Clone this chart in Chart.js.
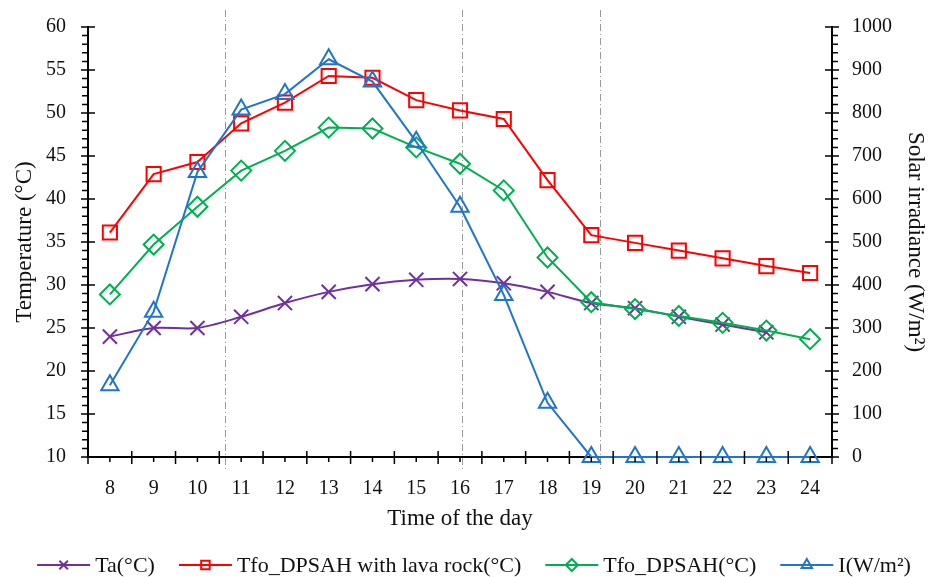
<!DOCTYPE html>
<html>
<head>
<meta charset="utf-8">
<script src="https://cdn.jsdelivr.net/npm/chart.js@4/dist/chart.umd.min.js"></script>
<style>
  html, body { margin: 0; padding: 0; background: #fff; }
  #wrap { width: 929px; height: 577px; }
</style>
</head>
<body>
<div id="wrap"><canvas id="chart" width="929" height="577"></canvas></div>
<script>
const hours = ['8', '9', '10', '11', '12', '13', '14', '15', '16', '17', '18', '19', '20', '21', '22', '23', '24'];

const ambientTemp = [24.0, 25.0, 25.0, 26.3, 27.9, 29.2, 30.1, 30.6, 30.7, 30.2, 29.2, 27.9, 27.3, 26.3, 25.4, 24.5, null];
const lavaRockTemp = [36.1, 42.9, 44.3, 48.8, 51.2, 54.3, 54.1, 51.5, 50.3, 49.3, 42.2, 35.8, 34.9, 34.0, 33.1, 32.2, 31.4];
const dpsahTemp = [28.9, 34.7, 39.1, 43.3, 45.6, 48.3, 48.2, 46.0, 44.1, 41.0, 33.2, 28.0, 27.2, 26.4, 25.6, 24.7, 23.7];
const irradiance = [167, 338, 663, 808, 844, 925, 873, 733, 582, 377, 126, 0, 0, 0, 0, 0, 0];

const dividerHours = [10.63, 16.05, 19.2];

const tempTicks = [10, 15, 20, 25, 30, 35, 40, 45, 50, 55, 60];
const irrTicks = [0, 100, 200, 300, 400, 500, 600, 700, 800, 900, 1000];

const FONT = "'Liberation Serif', 'DejaVu Serif', serif";

const series = [
    { label: 'Ta(°C)', data: ambientTemp, color: '#7030a0', style: 'crossRot', axis: 'y', order: 4, tension: 0.3 },
    { label: 'Tfo_DPSAH with lava rock(°C)', data: lavaRockTemp, color: '#ff0000', style: 'rect', axis: 'y', order: 3, tension: 0 },
    { label: 'Tfo_DPSAH(°C)', data: dpsahTemp, color: '#00b050', style: 'rectRot', axis: 'y', order: 2, tension: 0 },
    { label: 'I(W/m²)', data: irradiance, color: '#1f74cc', style: 'triangle', axis: 'y1', order: 1, tension: 0 }
];

// excel-like tick marks, dividers and legend
const decorPlugin = {
    id: 'decor',
    beforeDatasetsDraw(chart) {
        const ctx = chart.ctx;
        const x = chart.scales.x;
        const area = chart.chartArea;
        ctx.save();
        ctx.strokeStyle = '#9a9a9a';
        ctx.lineWidth = 1;
        ctx.setLineDash([7, 3, 1, 3]);
        dividerHours.forEach(h => {
            const px = Math.round(x.getPixelForValue(h - 8)) + 0.5;
            ctx.beginPath();
            ctx.moveTo(px, 10);
            ctx.lineTo(px, area.bottom + 14);
            ctx.stroke();
        });
        ctx.restore();
    },
    afterDraw(chart) {
        const ctx = chart.ctx;
        const { x, y, y1 } = chart.scales;
        const area = chart.chartArea;
        ctx.save();
        ctx.strokeStyle = '#000';
        ctx.lineWidth = 1.5;
        ctx.beginPath();
        // x axis: major at boundaries, minor at category centres
        for (let i = 0; i <= hours.length; i++) {
            const px = x.getPixelForValue(i - 0.5);
            ctx.moveTo(px, area.bottom - 6);
            ctx.lineTo(px, area.bottom + 7);
        }
        for (let i = 0; i < hours.length; i++) {
            const px = x.getPixelForValue(i);
            ctx.moveTo(px, area.bottom);
            ctx.lineTo(px, area.bottom + 5);
        }
        // left axis
        for (let v = 10; v <= 60; v++) {
            const py = y.getPixelForValue(v);
            if (v % 5 === 0) {
                ctx.moveTo(area.left - 7, py);
                ctx.lineTo(area.left + 7, py);
            } else {
                ctx.moveTo(area.left - 6, py);
                ctx.lineTo(area.left, py);
            }
        }
        // right axis
        for (let v = 0; v <= 1000; v += 20) {
            const py = y1.getPixelForValue(v);
            if (v % 100 === 0) {
                ctx.moveTo(area.right - 7, py);
                ctx.lineTo(area.right + 7, py);
            } else {
                ctx.moveTo(area.right, py);
                ctx.lineTo(area.right + 6, py);
            }
        }
        ctx.stroke();

        // legend
        ctx.font = '22px ' + FONT;
        ctx.textBaseline = 'middle';
        const lineLen = 53, gap = 5, spacing = 24, ly = 565;
        const widths = series.map(s => lineLen + gap + ctx.measureText(s.label).width);
        const total = widths.reduce((a, b) => a + b, 0) + spacing * (series.length - 1);
        let lx = 474 - total / 2;
        series.forEach((s, i) => {
            ctx.strokeStyle = s.color;
            ctx.lineWidth = 2;
            ctx.beginPath();
            ctx.moveTo(lx, ly);
            ctx.lineTo(lx + lineLen, ly);
            ctx.stroke();
            ctx.fillStyle = 'rgba(0,0,0,0)';
            Chart.helpers.drawPoint(ctx, { pointStyle: s.style, radius: 6, borderWidth: 2 }, lx + lineLen / 2, ly);
            ctx.fillStyle = '#111';
            ctx.textAlign = 'left';
            ctx.fillText(s.label, lx + lineLen + gap, ly + 1);
            lx += widths[i] + spacing;
        });
        ctx.restore();
    }
};

function fixWidth(w) {
    return s => { s.width = w; s.paddingTop = 0; s.paddingBottom = 0; };
}

new Chart(document.getElementById('chart').getContext('2d'), {
    type: 'line',
    data: {
        labels: hours,
        datasets: series.map(s => ({
            label: s.label,
            data: s.data,
            yAxisID: s.axis,
            order: s.order,
            clip: false,
            borderColor: s.color,
            backgroundColor: 'transparent',
            borderWidth: 2,
            tension: s.tension,
            pointStyle: s.style,
            pointRadius: 10,
            pointBorderWidth: 2,
            pointBorderColor: s.color,
            pointBackgroundColor: 'transparent'
        }))
    },
    options: {
        responsive: false,
        animation: false,
        layout: { padding: { top: 27, left: 0, right: 0, bottom: 30 } },
        plugins: {
            legend: { display: false },
            tooltip: { enabled: false }
        },
        scales: {
            x: {
                offset: true,
                grid: { display: false, drawTicks: false, offset: true },
                border: { display: true, color: '#000', width: 2 },
                ticks: { color: '#111', padding: 20, maxRotation: 0, font: { family: FONT, size: 20 } },
                title: { display: true, text: 'Time of the day', color: '#111', padding: { top: 6, bottom: 14 }, font: { family: FONT, size: 23 } },
                afterFit: s => { s.height = 90; s.paddingLeft = 0; s.paddingRight = 0; }
            },
            y: {
                position: 'left',
                min: 10,
                max: 60,
                afterBuildTicks: s => { s.ticks = tempTicks.map(v => ({ value: v })); },
                grid: { display: false, drawTicks: false },
                border: { display: true, color: '#000', width: 2 },
                ticks: { color: '#111', padding: 22, font: { family: FONT, size: 20 } },
                title: { display: true, text: 'Temperature (°C)', color: '#111', padding: { top: 11, bottom: 0 }, font: { family: FONT, size: 23 } },
                afterFit: fixWidth(88)
            },
            y1: {
                position: 'right',
                min: 0,
                max: 1000,
                afterBuildTicks: s => { s.ticks = irrTicks.map(v => ({ value: v })); },
                grid: { display: false, drawTicks: false },
                border: { display: true, color: '#000', width: 2 },
                ticks: { color: '#111', padding: 20, font: { family: FONT, size: 20 }, callback: v => String(v) },
                title: { display: true, text: 'Solar irradiance (W/m²)', color: '#111', padding: { top: 0, bottom: 0 }, font: { family: FONT, size: 23 } },
                afterFit: fixWidth(97)
            }
        }
    },
    plugins: [decorPlugin]
});
</script>
</body>
</html>
